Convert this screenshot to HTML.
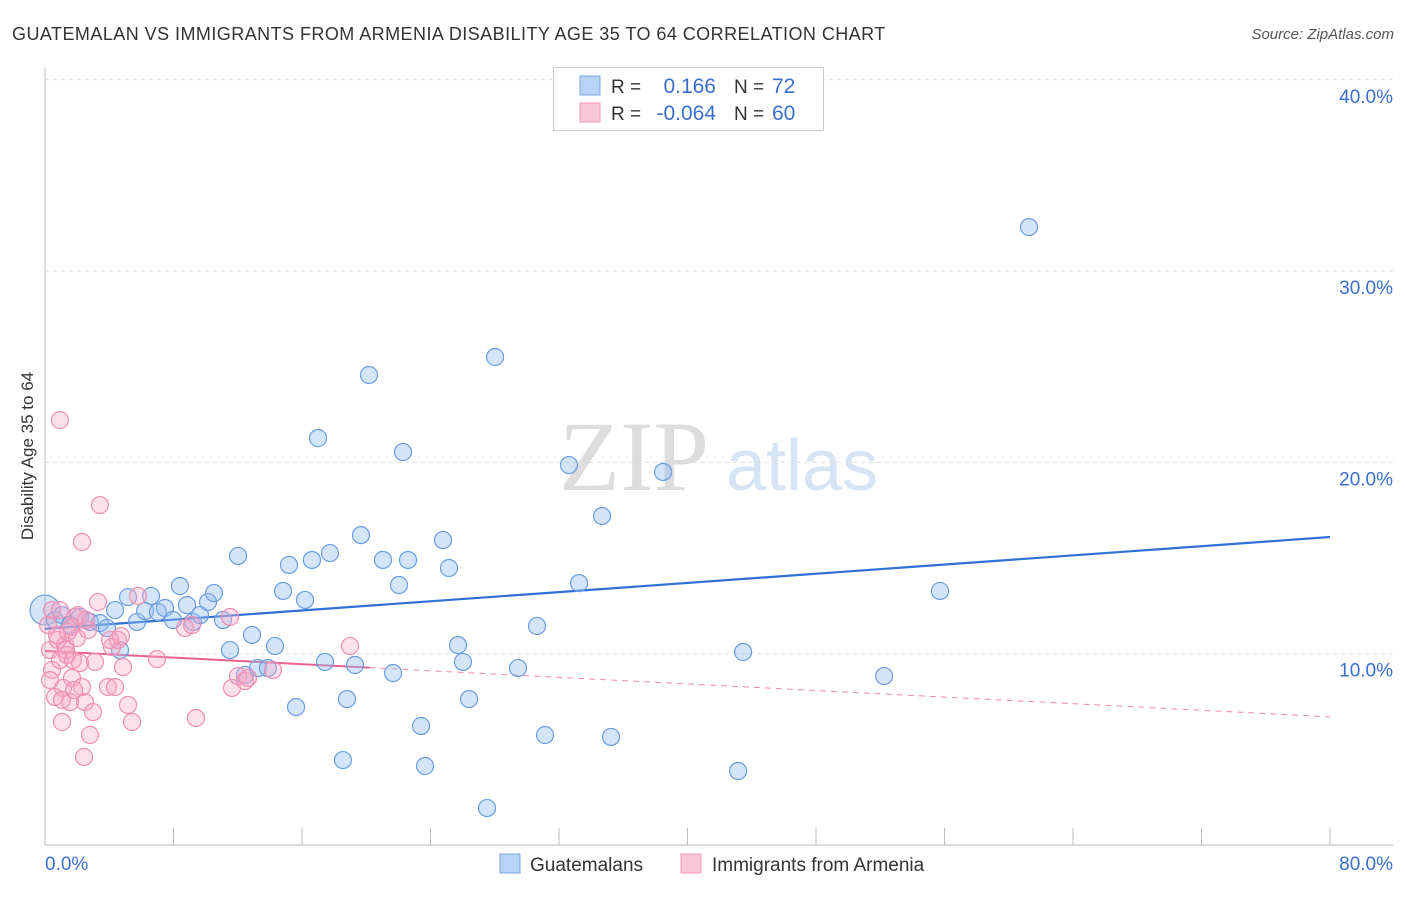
<!DOCTYPE html>
<html><head><meta charset="utf-8"><style>
body{margin:0;background:#fff;font-family:"Liberation Sans",sans-serif;}
</style></head><body>
<svg id="chart" width="1406" height="892" style="font-family:'Liberation Sans',sans-serif">
<text x="12" y="40" font-size="18" fill="#333" letter-spacing="0.45">GUATEMALAN VS IMMIGRANTS FROM ARMENIA DISABILITY AGE 35 TO 64 CORRELATION CHART</text>
<text x="1394" y="39" font-size="15" fill="#555" font-style="italic" text-anchor="end">Source: ZipAtlas.com</text>
<text x="0" y="0" transform="translate(33,456) rotate(-90)" font-size="17" fill="#333" text-anchor="middle">Disability Age 35 to 64</text>
<text x="634" y="490" font-size="100" fill="#ddd" style="font-family:'Liberation Serif',serif" text-anchor="middle">ZIP</text>
<text x="802" y="490" font-size="72" fill="#d6e4f5" text-anchor="middle">atlas</text>
<g id="grid"></g><g id="xticks"></g><g id="trend"></g><g id="pts"></g>
<g>
<rect x="553.5" y="67.5" width="270" height="63" fill="#fff" stroke="#ccc"/>
<rect x="580" y="76" width="20" height="19" fill="#b8d3f5" stroke="#7aa7e6"/>
<rect x="580" y="103" width="20" height="19" fill="#f9c8d8" stroke="#ef9ab8"/>
<text x="611" y="93" font-size="19" fill="#333">R =</text>
<text x="716" y="93" font-size="21" fill="#3a6fd0" text-anchor="end">0.166</text>
<text x="734" y="93" font-size="19" fill="#333">N =</text>
<text x="772" y="93" font-size="21" fill="#3a6fd0">72</text>
<text x="611" y="120" font-size="19" fill="#333">R =</text>
<text x="716" y="120" font-size="21" fill="#3a6fd0" text-anchor="end">-0.064</text>
<text x="734" y="120" font-size="19" fill="#333">N =</text>
<text x="772" y="120" font-size="21" fill="#3a6fd0">60</text>
</g>
<g>
<rect x="500" y="854" width="20" height="19" fill="#b8d3f5" stroke="#7aa7e6"/>
<text x="530" y="871" font-size="19" fill="#333">Guatemalans</text>
<rect x="681" y="854" width="20" height="19" fill="#f9c8d8" stroke="#ef9ab8"/>
<text x="712" y="871" font-size="19" fill="#333">Immigrants from Armenia</text>
</g>
<text x="45" y="870" font-size="19" fill="#3a6fd0">0.0%</text>
<text x="1393" y="870" font-size="19" fill="#3a6fd0" text-anchor="end">80.0%</text>
</svg>
<script>
const yTicks=[10,20,30,40];
const yTickLabels=["10.0%","20.0%","30.0%","40.0%"];
const xTicks=[0,8,16,24,32,40,48,56,64,72,80];
const blueX=[0,0.62,1.06,1.56,2.18,2.8,3.42,3.86,4.36,4.67,5.17,5.73,6.23,6.6,7.03,7.47,7.97,8.4,8.84,9.21,9.65,10.15,10.52,11.08,11.52,12.02,12.45,12.89,13.26,13.88,14.32,14.82,15.19,15.63,16.19,16.62,17,17.43,17.74,18.55,18.8,19.3,19.67,20.17,21.04,21.67,22.04,22.29,22.6,23.41,23.66,24.78,25.15,25.71,26.02,26.4,27.52,28.02,29.45,30.63,31.13,32.62,33.25,34.68,35.24,38.48,43.15,43.46,52.24,55.72,61.26];
const blueY=[12.28,11.76,12.02,11.5,11.92,11.66,11.6,11.34,12.28,10.19,12.96,11.66,12.23,13.02,12.18,12.39,11.76,13.54,12.54,11.66,12.02,12.7,13.17,11.76,10.19,15.11,8.89,10.98,9.25,9.25,10.4,13.28,14.64,7.21,12.81,14.9,21.27,9.57,15.26,4.44,7.63,9.41,16.2,24.57,14.9,8.99,13.59,20.54,14.9,6.22,4.13,15.94,14.48,10.45,9.57,7.63,1.93,25.51,9.25,11.45,5.75,19.86,13.69,17.2,5.65,19.5,3.87,10.09,8.83,13.28,32.3];
const pinkX=[0.19,0.31,0.44,0.62,0.81,0.93,0.93,1.06,1.12,1.25,1.37,1.43,1.56,1.68,1.74,1.87,1.99,2.18,2.3,2.43,2.49,2.68,2.8,2.99,3.3,3.42,2.3,3.92,4.17,4.36,4.55,4.73,4.86,5.17,5.42,5.79,6.97,8.72,9.15,9.4,11.52,11.64,12.02,12.45,12.64,14.19,18.99,0.44,0.75,2.05,1.31,3.11,4.05,0.93,1.62,2.55,0.31,1.06,1.81];
const pinkY=[11.5,10.19,9.15,7.74,10.72,9.67,22.21,6.43,8.21,10.45,9.93,11.13,7.47,8.73,9.67,11.92,10.82,9.51,8.26,4.6,7.47,11.24,5.75,6.95,12.7,17.77,15.84,8.26,10.35,8.26,10.72,10.92,9.3,7.32,6.43,13.02,9.72,11.34,11.5,6.64,11.92,8.21,8.83,8.57,8.73,9.15,10.4,12.28,10.98,12.02,10.19,9.57,10.72,12.28,11.4,11.76,8.62,7.58,8.1];
const blueTrend=[11.3,16.1];
const pinkTrend=[10.14,6.7];
const pinkSolidEnd=20.2;
const NS="http://www.w3.org/2000/svg";
const sx=v=>45+v/80*1285, sy=v=>845-v*19.13;
function mk(tag,attrs,parent){const e=document.createElementNS(NS,tag);for(const k in attrs)e.setAttribute(k,attrs[k]);document.getElementById(parent).appendChild(e);return e;}
let ax=mk('line',{x1:45,y1:68,x2:45,y2:845,stroke:'#bbb'},'grid');


let bx=mk('line',{x1:45,y1:845,x2:1393,y2:845,stroke:'#bbb'},'grid');


yTicks.forEach((t,i)=>{
 const g=mk('line',{x1:45,x2:1393,y1:sy(t),y2:sy(t),stroke:'#ddd','stroke-dasharray':'4,4'},'grid');
 
 
 const l=mk('text',{x:1393,y:sy(t)+23,'font-size':19,fill:'#3a6fd0','text-anchor':'end'},'grid');
 l.textContent=yTickLabels[i];
 
 
});
xTicks.forEach(t=>{
 const k=mk('line',{x1:sx(t),x2:sx(t),y1:828,y2:845,stroke:'#bbb'},'xticks');
 
 
});
blueX.forEach((x,i)=>{
 const c=mk('circle',{cx:sx(x),cy:sy(blueY[i]),r:i===0?15:8.5,fill:'rgba(150,190,240,0.4)',stroke:'#6a9de0','stroke-width':1.2},'pts');
 
 
});
pinkX.forEach((x,i)=>{
 const c=mk('circle',{cx:sx(x),cy:sy(pinkY[i]),r:8.5,fill:'rgba(245,165,195,0.35)',stroke:'#ef8fb3','stroke-width':1.2},'pts');
 
 
});
const bt=mk('line',{x1:sx(0),y1:sy(blueTrend[0]),x2:sx(80),y2:sy(blueTrend[1]),stroke:'#2f6fd6','stroke-width':2.2},'trend');


const pAt=x=>pinkTrend[0]+(pinkTrend[1]-pinkTrend[0])*x/80;
const ps=mk('line',{x1:sx(0),y1:sy(pAt(0)),x2:sx(pinkSolidEnd),y2:sy(pAt(pinkSolidEnd)),stroke:'#e8608e','stroke-width':2},'trend');


const pd=mk('line',{x1:sx(pinkSolidEnd),y1:sy(pAt(pinkSolidEnd)),x2:sx(80),y2:sy(pAt(80)),stroke:'#ec8aac','stroke-width':1,'stroke-dasharray':'6,5'},'trend');


</script>
</body></html>
